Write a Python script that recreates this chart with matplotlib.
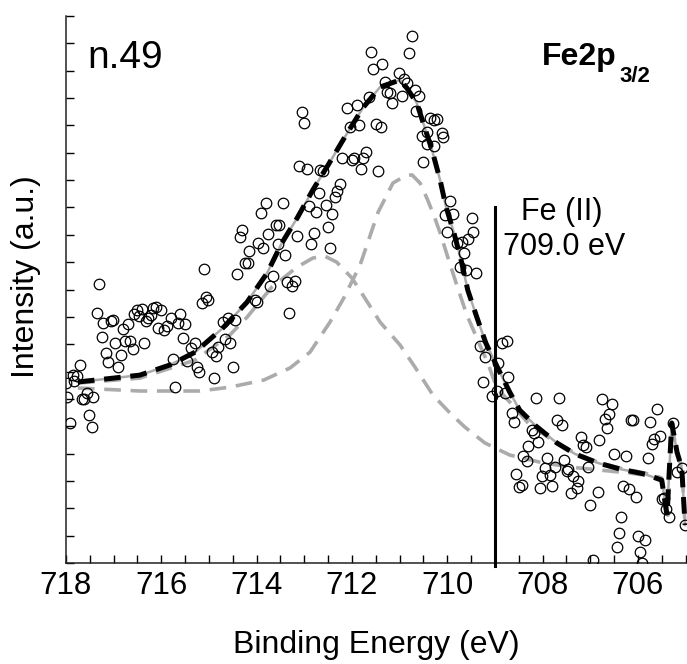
import matplotlib
matplotlib.use("Agg")
import matplotlib.pyplot as plt
from matplotlib.ticker import MultipleLocator

plt.rcParams['font.family'] = ['Liberation Sans', 'DejaVu Sans']
plt.rcParams['lines.scale_dashes'] = False

# measured spectrum (binding energy in eV, intensity in a.u.)
be = [718.00, 717.98, 717.92, 717.85, 717.83, 717.77, 717.71, 717.66, 717.62, 717.56,
      717.43, 717.52, 717.45, 717.35, 717.31, 717.24, 717.22, 717.16, 717.12, 717.06,
      717.01, 716.97, 716.91, 716.85, 716.80, 716.76, 716.70, 716.66, 716.59, 716.57,
      716.51, 716.47, 716.41, 716.36, 716.32, 716.28, 716.22, 716.17, 716.11, 716.07,
      716.01, 715.94, 715.88, 715.80, 715.76, 715.71, 715.65, 715.61, 715.55, 715.50,
      715.46, 715.38, 715.29, 715.25, 715.21, 715.15, 715.11, 715.06, 715.02, 714.94,
      714.90, 714.85, 714.81, 714.71, 714.66, 714.60, 714.56, 714.50, 714.45, 714.41,
      714.35, 714.31, 714.16, 714.24, 714.18, 714.04, 713.99, 713.97, 713.91, 713.87,
      713.80, 713.76, 713.72, 713.66, 713.59, 713.53, 713.55, 713.45, 713.41, 713.36,
      713.26, 713.20, 713.32, 713.15, 713.11, 712.94, 712.90, 712.86, 712.80, 712.76,
      712.69, 712.67, 712.61, 712.55, 712.50, 712.46, 712.42, 712.36, 712.32, 712.25,
      713.01, 713.05, 712.21, 710.74, 711.60, 710.80, 711.56, 711.37, 711.01, 710.91,
      711.31, 711.27, 711.20, 711.16, 710.95, 710.85, 710.68, 710.59, 710.66, 711.64,
      712.11, 711.90, 712.04, 711.85, 711.50, 711.39, 710.36, 710.28, 710.22, 710.43,
      710.53, 710.11, 710.09, 710.43, 710.28, 710.51, 712.00, 711.96, 711.77, 711.71,
      711.81, 711.45, 709.94, 710.05, 709.88, 709.48, 710.01, 709.69, 709.80, 709.46,
      709.57, 709.65, 709.73, 709.61, 709.40, 709.32, 708.85, 708.75, 709.21, 708.94,
      708.73, 709.25, 708.96, 709.06, 708.79, 708.64, 708.60, 708.14, 707.66, 708.56,
      708.50, 708.43, 708.31, 708.41, 708.33, 708.22, 708.18, 708.10, 708.06, 708.01,
      707.91, 707.95, 707.85, 707.80, 707.74, 707.70, 707.59, 707.55, 707.49, 707.47,
      707.41, 707.36, 707.28, 707.26, 707.20, 707.15, 707.09, 707.05, 707.01, 706.84,
      706.82, 706.76, 706.69, 706.65, 706.61, 706.55, 706.50, 706.44, 706.40, 706.36,
      706.32, 706.25, 706.19, 706.15, 706.11, 706.04, 706.00, 705.96, 705.92, 705.85,
      705.79, 705.75, 705.71, 705.66, 705.60, 705.54, 705.50, 705.46, 705.41, 705.35,
      705.27, 705.18, 705.08, 705.01, 706.94]
counts = [6.58, 6.07, 5.12, 6.87, 6.65, 6.84, 7.24, 6.00, 6.00, 6.22,
          6.07, 5.41, 4.97, 9.14, 10.20, 8.26, 8.77, 7.68, 7.35, 8.85,
          8.88, 8.04, 7.17, 7.60, 8.56, 8.12, 8.74, 8.12, 7.82, 9.10,
          9.25, 9.03, 9.29, 8.04, 8.85, 8.96, 9.07, 9.32, 9.36, 8.59,
          9.25, 8.52, 8.66, 8.96, 7.46, 6.43, 8.77, 9.10, 8.23, 8.74,
          7.39, 7.86, 8.04, 7.17, 6.98, 9.51, 10.75, 9.73, 9.62, 7.71,
          6.76, 7.57, 7.90, 8.81, 8.19, 8.96, 8.04, 7.17, 8.88, 10.57,
          11.92, 12.17, 11.41, 10.97, 10.97, 9.62, 9.54, 11.70, 12.80, 11.52,
          13.16, 12.03, 10.13, 10.49, 12.36, 12.36, 11.66, 13.16, 11.26, 10.27,
          10.13, 10.31, 9.14, 11.96, 14.51, 14.40, 13.05, 11.66, 12.07, 12.83,
          13.53, 14.37, 14.33, 13.09, 12.28, 11.52, 12.76, 13.38, 13.60, 13.86,
          16.09, 16.49, 14.81, 19.27, 18.68, 18.65, 18.06, 18.24, 17.91, 17.70,
          17.59, 17.22, 17.18, 16.82, 17.07, 17.55, 17.29, 17.07, 16.53, 17.04,
          16.64, 16.74, 15.94, 16.01, 16.05, 15.94, 16.27, 16.20, 16.23, 15.76,
          15.61, 15.72, 15.58, 15.32, 15.25, 14.66, 14.73, 14.81, 14.81, 15.03,
          14.40, 14.33, 13.24, 12.72, 12.76, 12.61, 12.10, 11.74, 11.70, 12.10,
          11.85, 11.33, 10.82, 10.71, 10.60, 7.93, 8.04, 8.12, 7.53, 7.31,
          6.80, 6.62, 6.29, 6.11, 6.22, 5.48, 5.16, 6.03, 6.03, 3.25,
          2.78, 2.85, 4.28, 3.91, 3.73, 4.86, 4.75, 4.42, 2.74, 3.18,
          3.84, 3.47, 3.22, 2.82, 3.51, 5.23, 5.05, 3.77, 3.36, 3.44,
          2.56, 3.18, 2.74, 3.00, 4.61, 4.31, 4.24, 3.51, 2.12, 2.60,
          4.50, 6.00, 5.26, 4.94, 5.45, 5.81, 3.99, 0.58, 1.10, 1.68,
          2.82, 3.91, 2.71, 5.23, 5.23, 2.41, 0.99, 0.40, 0.02, 0.84,
          3.84, 5.16, 4.35, 4.53, 5.63, 4.64, 2.34, 2.38, 1.97, 1.68,
          5.12, 3.33, 3.47, 1.39, 0.11]

# fit envelope
env_be = [717.75, 717.01, 716.45, 715.82, 715.29, 714.71, 714.20, 713.78, 713.47, 713.15,
          712.82, 712.50, 712.15, 711.77, 711.41, 710.99, 710.85, 710.64, 710.49, 710.32,
          710.15, 710.03, 709.86, 709.71, 709.57, 709.38, 709.19, 708.94, 708.69, 708.48,
          708.14, 707.70, 707.32, 706.84, 706.38, 705.85, 705.50, 705.39, 705.29, 705.18,
          705.08, 705.01]
env_int = [6.62, 6.76, 6.87, 7.24, 7.71, 8.59, 9.54, 10.60, 11.70, 12.61,
           13.64, 14.55, 15.57, 16.64, 17.40, 17.66, 17.37, 16.82, 16.01, 15.10,
           14.00, 13.05, 12.07, 11.08, 9.98, 8.99, 8.04, 7.13, 6.25, 5.59,
           5.01, 4.39, 3.99, 3.66, 3.44, 3.25, 3.03, 1.75, 5.12, 4.06,
           3.47, 1.39]

# component at higher binding energy
pA_be = [717.75, 716.45, 715.29, 714.56, 714.20, 713.68, 713.15, 712.82, 712.57, 712.32,
         712.00, 711.73, 711.41, 710.99, 710.68, 710.30, 709.94, 709.63, 709.21, 708.69,
         708.06, 707.43, 706.80, 706.17, 705.54]
pA_int = [6.58, 6.76, 7.42, 8.34, 8.99, 10.09, 10.82, 11.15, 11.22, 11.00,
          10.42, 9.69, 8.81, 7.97, 7.17, 6.14, 5.48, 4.97, 4.39, 3.95,
          3.69, 3.51, 3.40, 3.29, 3.14]

# component Fe(II)
pB_be = [717.75, 716.45, 715.19, 714.56, 713.85, 713.30, 712.88, 712.46, 712.17, 711.83,
         711.45, 711.14, 710.89, 710.74, 710.57, 710.41, 710.26, 710.15, 709.99, 709.80,
         709.59, 709.36, 709.15, 708.96, 708.69, 708.27, 707.70, 707.32, 706.84, 706.38,
         705.85, 705.50, 705.37, 705.29, 705.18, 705.08, 705.01]
pB_int = [6.40, 6.29, 6.29, 6.43, 6.69, 7.13, 7.71, 8.81, 9.69, 10.89,
          12.83, 13.89, 14.15, 14.19, 13.89, 13.27, 12.61, 12.07, 11.19, 10.16,
          9.07, 8.15, 7.31, 6.40, 5.89, 5.05, 4.39, 4.02, 3.69, 3.47,
          3.29, 3.11, 1.75, 5.05, 4.06, 3.47, 1.39]

fe2_pos = 709.0
fe2_top = 13.0
xticks = [718, 716, 714, 712, 710, 708, 706]

fig = plt.figure(figsize=(6.87, 6.64), dpi=100)
ax = fig.add_axes([0.096, 0.152, 0.904, 0.824])

grey = '#ababab'
ax.plot(pA_be, pA_int, color=grey, lw=2.6, dashes=(12, 7), zorder=2)
ax.plot(pB_be, pB_int, color=grey, lw=2.6, dashes=(12, 7), zorder=2)
ax.plot(env_be, env_int, color=grey, lw=1.8, zorder=2)
ax.plot(env_be, env_int, color='black', lw=3.6, dashes=(12, 7), zorder=3)
ax.plot(be, counts, 'o', ms=7.6, mfc='none', mec='black', mew=0.9, zorder=4)

ax.plot([fe2_pos, fe2_pos], [fe2_top, -0.1], color='black', lw=2.2, clip_on=False, zorder=5)
ax.text(0.733, 0.627, 'Fe (II)', transform=ax.transAxes, fontsize=22)
ax.text(0.704, 0.563, '709.0 eV', transform=ax.transAxes, fontsize=22)

ax.text(0.035, 0.905, 'n.49', transform=ax.transAxes, fontsize=28)
ax.text(0.767, 0.910, 'Fe2p', transform=ax.transAxes, fontsize=23, fontweight='bold')
ax.text(0.892, 0.879, '3/2', transform=ax.transAxes, fontsize=16, fontweight='bold')

ax.set_xlim(718, 704.97)
ax.set_ylim(0, 20)
ax.set_xticks(xticks)
ax.set_xticklabels([str(t) for t in xticks], fontsize=22.5)
ax.xaxis.set_minor_locator(MultipleLocator(0.5))
ax.yaxis.set_major_locator(MultipleLocator(1))
ax.set_yticklabels([])
ax.tick_params(axis='x', which='major', direction='in', length=6, width=1, pad=5.5)
ax.tick_params(axis='x', which='minor', direction='in', length=6, width=1)
ax.tick_params(axis='y', which='major', direction='in', length=6, width=1)

for s in ['top', 'right']:
    ax.spines[s].set_visible(False)
for s in ['left', 'bottom']:
    ax.spines[s].set_linewidth(1.1)
    ax.spines[s].set_color('#222222')

ax.set_xlabel('Binding Energy (eV)', fontsize=23)
ax.set_ylabel('Intensity (a.u.)', fontsize=23)
ax.xaxis.set_label_coords(0.5, -0.123)
ax.yaxis.set_label_coords(-0.040, 0.523)

plt.savefig('out.png', dpi=100)
